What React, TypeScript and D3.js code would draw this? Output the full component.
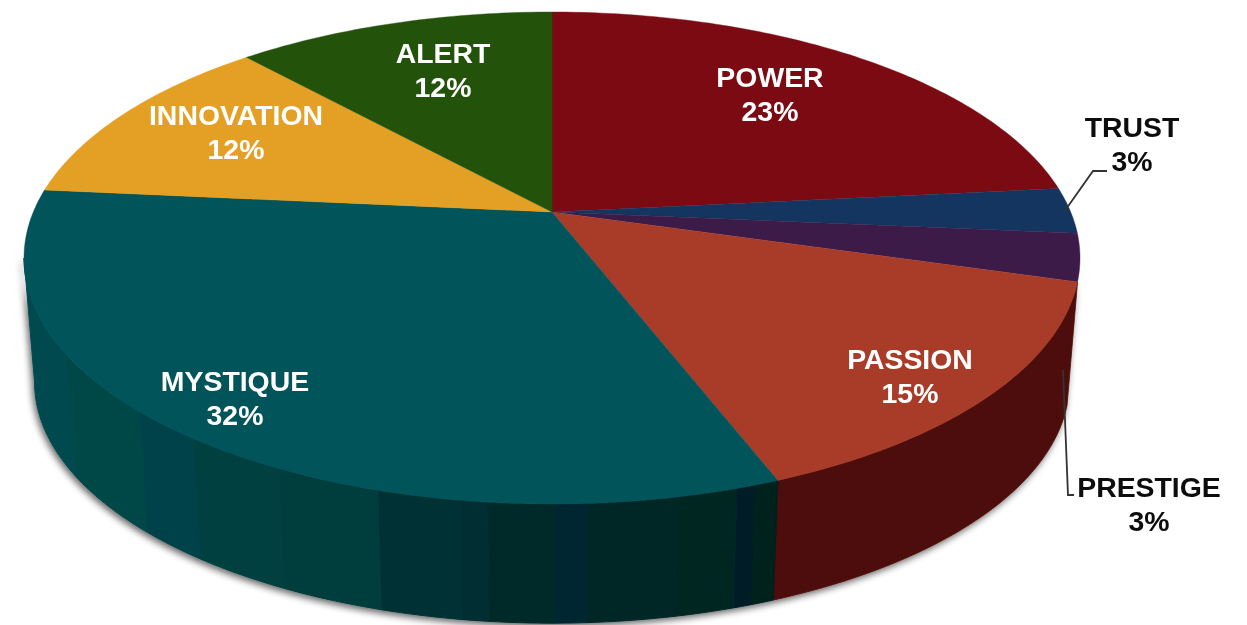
import React from "react";
import * as d3 from "d3";

const categories = ["POWER", "TRUST", "PRESTIGE", "PASSION", "MYSTIQUE", "INNOVATION", "ALERT"];
const shares = [23.4, 3.0, 3.1, 14.65, 32.35, 11.8, 11.7];
const percentLabels = ["23%", "3%", "3%", "15%", "32%", "12%", "12%"];
const topColors = ["#7b0a12", "#13355f", "#3c1b49", "#a83c29", "#00545a", "#e4a024", "#23520b"];
const passionWall = "#4d0a07";
// shading facets of the MYSTIQUE wall: where each facet ends (degrees clockwise from the back) and its colour
const mystiqueBandEnds = [161.3, 163, 168.7, 176.8, 179.7, 185.8, 188.3, 196, 206, 216, 223.5, 237.5, 259.2];
const mystiqueBandColors = ["#00201f", "#001f27", "#002624", "#002827", "#002731", "#002b2b", "#002d33", "#003234", "#003c3d", "#004040", "#004349", "#004647", "#004a50"];
const labelCenters: [number, number][] = [[770, 77], [1132, 127], [1149, 487], [910, 359], [235, 381], [236, 115], [443, 53]];
const labelFill = ["#fff", "#0c0c0c", "#0c0c0c", "#fff", "#fff", "#fff", "#fff"];

const W = 1247, H = 625;
const cx = 552, cy = 212;
const k = -0.187, A = 518.7, B = 237.4;
const wallScale = 0.98, wallDrop = 125;

const top = (a: number): [number, number] => {
  const u = Math.sin(a), v = -Math.cos(a), d = 1 + k * v;
  return [cx + (A * u) / d, cy + (B * v) / d];
};
const bottom = (a: number): [number, number] => {
  const [x, y] = top(a);
  return [cx + (x - cx) * wallScale, cy + (y - cy) * wallScale + wallDrop];
};
const sample = (a0: number, a1: number) => {
  const n = Math.max(2, Math.ceil(Math.abs(a1 - a0) * 60));
  return d3.range(n + 1).map((i) => a0 + ((a1 - a0) * i) / n);
};
const line = d3.line<[number, number]>();
const rad = d3.scaleLinear().domain([0, 360]).range([0, 2 * Math.PI]);

const facet = (a0: number, a1: number) => {
  const s = sample(a0, a1);
  return line([...s.map(top), ...s.slice().reverse().map(bottom)]) + "Z";
};

export default function App() {
  const arcs = d3.pie<number>().sort(null).startAngle(0).endAngle(2 * Math.PI)(shares);
  const passion = arcs[3], mystique = arcs[4];
  const fill = d3.scaleOrdinal<string, string>().domain(categories).range(topColors);
  const trustMid = (arcs[1].startAngle + arcs[1].endAngle) / 2;
  const trustAnchor = top(trustMid);
  const prestigeLeader = [[1063, 370], [1068, 495], [1074, 495]] as [number, number][];
  const trustLeader = [[trustAnchor[0] - 5, trustAnchor[1]], [1093, 171], [1107, 171]] as [number, number][];

  let prev = mystique.startAngle;
  const bands = mystiqueBandEnds.map((e, i) => {
    const end = rad(e);
    const d = facet(prev, end);
    prev = end;
    return { d, color: mystiqueBandColors[i] };
  });

  return (
    <svg width={W} height={H} style={{ position: "absolute", left: 0, top: 0, display: "block", background: "#fff" }}>
      <defs>
        <filter id="wallShadow" x="-10%" y="-10%" width="120%" height="130%">
          <feGaussianBlur in="SourceAlpha" stdDeviation="3.5" />
          <feOffset dx="-2" dy="3" />
          <feComponentTransfer><feFuncA type="linear" slope="0.6" /></feComponentTransfer>
          <feMerge><feMergeNode /><feMergeNode in="SourceGraphic" /></feMerge>
        </filter>
        <filter id="soft" x="-5%" y="-20%" width="110%" height="140%">
          <feGaussianBlur stdDeviation="0.55" />
        </filter>
      </defs>
      <g filter="url(#wallShadow)">
        <path d={facet(passion.startAngle, passion.endAngle)} fill={passionWall} stroke={passionWall} strokeWidth={0.8} />
        {bands.map((b, i) => <path key={i} d={b.d} fill={b.color} stroke={b.color} strokeWidth={1} />)}
      </g>
      <g>
        {arcs.map((a, i) => {
          const pts = sample(a.startAngle, a.endAngle).map(top);
          return (
            <path key={i} d={line([[cx, cy], ...pts]) + "Z"} fill={fill(categories[i])} stroke={fill(categories[i])} strokeWidth={0.4} />
          );
        })}
      </g>
      <path d={line(trustLeader) || ""} fill="none" stroke="#333" strokeWidth={1.8} />
      <path d={line(prestigeLeader) || ""} fill="none" stroke="#333" strokeWidth={1.8} />
      <g filter="url(#soft)" fontFamily="'Liberation Sans', Arial, sans-serif" fontWeight={700} fontSize={28.4} textAnchor="middle">
        {categories.map((c, i) => (
          <g key={c} fill={labelFill[i]}>
            <text x={labelCenters[i][0]} y={labelCenters[i][1] + 10}>{c}</text>
            <text x={labelCenters[i][0]} y={labelCenters[i][1] + 44}>{percentLabels[i]}</text>
          </g>
        ))}
      </g>
    </svg>
  );
}
